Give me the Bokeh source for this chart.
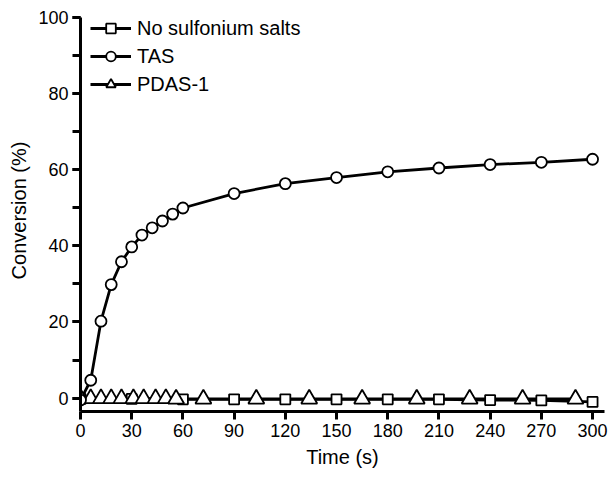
from bokeh.plotting import figure
from bokeh.models import Range1d, SingleIntervalTicker, FixedTicker, Legend, LegendItem
from bokeh.embed import file_html
from bokeh.resources import INLINE

# ---- data ----
tas_t = [0, 6, 12, 18, 24, 30, 36, 42, 48, 54, 60, 90, 120, 150, 180, 210, 240, 270, 300]
tas_c = [-0.5, 4.7, 20.2, 29.8, 35.8, 39.7, 42.8, 44.7, 46.5, 48.3, 49.9, 53.7, 56.3,
         57.9, 59.4, 60.4, 61.3, 61.9, 62.7]
none_t = [0, 30, 60, 90, 120, 150, 180, 210, 240, 270, 300]
none_c = [-0.2, -0.2, -0.3, -0.3, -0.3, -0.3, -0.3, -0.3, -0.5, -0.6, -1.0]
pdas_t = [0, 6, 12, 18, 24, 31, 37, 44, 50, 56, 72, 103, 134, 165, 197, 228, 259, 290]
pdas_c = [0.0, -0.1, -0.1, -0.1, -0.1, -0.1, -0.1, -0.1, -0.1, -0.2, -0.2, -0.2, -0.2,
          -0.2, -0.2, -0.2, -0.2, -0.2]
x_ticks = [0, 30, 60, 90, 120, 150, 180, 210, 240, 270, 300]
labels = ["No sulfonium salts", "TAS", "PDAS-1"]

FONT = "Liberation Sans"

p = figure(width=608, height=474, output_backend="svg", toolbar_location=None,
           x_range=Range1d(0, 307), y_range=Range1d(-3.5, 102.0),
           frame_width=524, frame_height=402,
           min_border_left=80, min_border_right=4, min_border_top=9, min_border_bottom=63)
p.outline_line_color = None
p.grid.visible = False
p.background_fill_color = "white"

LW = 2.8
r_none_l = p.line(none_t, none_c, line_color="black", line_width=LW)
r_pdas_l = p.line(pdas_t, pdas_c, line_color="black", line_width=LW)
r_tas_l = p.line(tas_t, tas_c, line_color="black", line_width=LW)
r_none_m = p.scatter(none_t, none_c, marker="square", size=10, fill_color="white",
                     line_color="black", line_width=1.8)
r_pdas_m = p.scatter(pdas_t, pdas_c, marker="triangle", size=16, fill_color="white",
                     line_color="black", line_width=1.8)
r_tas_m = p.scatter(tas_t, tas_c, marker="circle", size=11, fill_color="white",
                    line_color="black", line_width=1.8)

# axes
xa = p.xaxis[0]
ya = p.yaxis[0]
xa.bounds = (0, 307)
ya.bounds = (-3.5, 100)
xa.ticker = FixedTicker(ticks=x_ticks)
ya.ticker = SingleIntervalTicker(interval=20, num_minor_ticks=2)
for ax in (xa, ya):
    ax.axis_line_width = 3
    ax.axis_line_color = "black"
    ax.major_tick_line_width = 3
    ax.minor_tick_line_width = 3
    ax.major_tick_out = 8
    ax.major_tick_in = 0
    ax.minor_tick_out = 8
    ax.minor_tick_in = 0
    ax.major_label_text_font = FONT
    ax.major_label_text_font_size = "18px"
    ax.major_label_text_color = "black"
    ax.axis_label_text_font = FONT
    ax.axis_label_text_font_size = "20px"
    ax.axis_label_text_font_style = "normal"
    ax.axis_label_text_color = "black"
xa.minor_tick_line_color = None
xa.major_label_standoff = 4
ya.major_label_standoff = 4
xa.axis_label = "Time (s)"
ya.axis_label = "Conversion (%)"
xa.axis_label_standoff = 6
ya.axis_label_standoff = 5

legend = Legend(items=[
    LegendItem(label=labels[0], renderers=[r_none_l, r_none_m]),
    LegendItem(label=labels[1], renderers=[r_tas_l, r_tas_m]),
    LegendItem(label=labels[2], renderers=[r_pdas_l, r_pdas_m]),
], location=(10, 315), padding=0, margin=0, spacing=4,
    glyph_width=41, glyph_height=24, label_height=24, label_standoff=6,
    label_text_font=FONT, label_text_font_size="20px", label_text_color="black",
    border_line_color=None, background_fill_alpha=0)
p.add_layout(legend, "center")

open("out.html", "w").write(file_html(p, INLINE))
